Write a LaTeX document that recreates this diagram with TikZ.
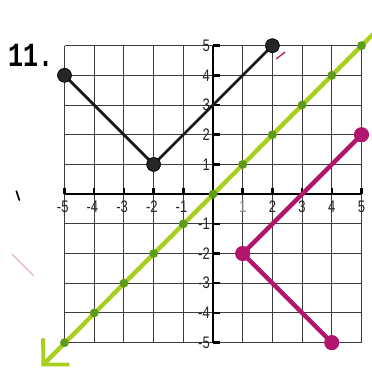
\documentclass[tikz,border=0pt]{standalone}
\usepackage{fontspec}
\setmainfont{Liberation Sans}
\newfontfamily\probfont{Liberation Mono}
\usetikzlibrary{arrows.meta}
\definecolor{gridgray}{HTML}{3C3C3C}
\definecolor{limeink}{HTML}{A8CE1E}
\definecolor{limedot}{HTML}{5E9A1C}
\definecolor{magentaink}{HTML}{B2156E}
\definecolor{pinkfaint}{HTML}{E7A2C8}
\newcommand{\tl}[1]{\scalebox{0.78}[1]{#1}}
\begin{document}
\begin{tikzpicture}[x=1cm,y=1cm,
  gridline/.style={draw=gridgray,line width=0.9pt},
  axisline/.style={draw=black,line width=2.6pt},
  tickmark/.style={draw=black,line width=2.4pt},
  ticklabel/.style={font=\fontsize{16}{16}\selectfont,text=black!85,inner sep=0pt},
  blackpath/.style={draw=black!90,line width=2.6pt,line join=round,line cap=round},
  blackdot/.style={circle,fill=black!85,draw=black,line width=0.6pt,minimum size=0.46cm,inner sep=0pt},
  greenpath/.style={draw=limeink,line width=4.2pt,line cap=round},
  greendot/.style={circle,fill=limedot,minimum size=0.3cm,inner sep=0pt},
  magentapath/.style={draw=magentaink,line width=4.2pt,line join=round,line cap=round},
  magentadot/.style={circle,fill=magentaink,minimum size=0.5cm,inner sep=0pt}
]
\useasboundingbox (-7.172,-5.963) rectangle (5.354,6.537);
\fill[white] (-7.172,-5.963) rectangle (5.354,6.537);

% problem number
\node[inner sep=0pt] (num) at (-6.14,4.66) {\scalebox{1}[1.35]{\probfont\bfseries\fontsize{24}{24}\selectfont 11.}};

% grid
\draw[gridline] (-5,-5) grid (5,5);
% axes
\draw[axisline] (-5,0) -- (5,0);
\draw[axisline] (0,-5) -- (0,5);
% ticks
\foreach \i in {-5,...,5} {
  \draw[tickmark] (\i,0) -- (\i,0.2);
  \draw[tickmark] (0,\i) -- (0.22,\i);
}
% x labels
\foreach \i in {-5,-4,-3,-2,-1} {
  \node[ticklabel] (xl\i) at (\i-0.06,-0.42) {\tl{-\the\numexpr-\i\relax}};
}
\node[ticklabel,text=black!45] (xl1) at (1,-0.42) {\tl{1}};
\foreach \i in {2,3,4,5} {
  \node[ticklabel] (xl\i) at (\i,-0.42) {\tl{\i}};
}
% y labels
\foreach \i in {1,...,5} {
  \node[ticklabel,anchor=east] (yl\i) at (-0.1,\i) {\tl{\i}};
}
\foreach \i in {-1,-2,-3,-4,-5} {
  \node[ticklabel,anchor=east] (yl\i) at (-0.1,\i) {\tl{-\the\numexpr-\i\relax}};
}

% green line y = x
\coordinate (gtop) at (5.6,5.6);
\coordinate (gtip) at (-5.78,-5.8);
\draw[greenpath,-{Straight Barb[length=0.62cm,width=1.25cm,line width=3.6pt]}] (gtop) -- (gtip);
\foreach \i in {-5,...,5} {
  \node[greendot] (g\i) at (\i,\i) {};
}

% black V
\node[blackdot] (A) at (-5,4) {};
\node[blackdot] (B) at (-2,1) {};
\node[blackdot] (C) at (2,5) {};
\draw[blackpath] (A.center) -- (B.center) -- (C.center);
\node[blackdot] at (A) {};
\node[blackdot] at (B) {};
\node[blackdot] at (C) {};

% magenta V
\node[magentadot] (P) at (1,-2) {};
\node[magentadot] (Q) at (5,2) {};
\node[magentadot] (R) at (4,-5) {};
\draw[magentapath] (Q.center) -- (P.center) -- (R.center);
\node[magentadot] at (P) {};
\node[magentadot] at (Q) {};
\node[magentadot] at (R) {};

% stray marks
\draw[black,line width=1.6pt,line cap=round] (-6.62,0.1) -- (-6.52,-0.2);
\draw[pinkfaint,line width=1pt,line cap=round] (-6.77,-2.02) -- (-6.05,-2.74);
\draw[magentaink,line width=1.2pt,line cap=round] (2.14,4.56) -- (2.42,4.78);
\end{tikzpicture}
\end{document}
